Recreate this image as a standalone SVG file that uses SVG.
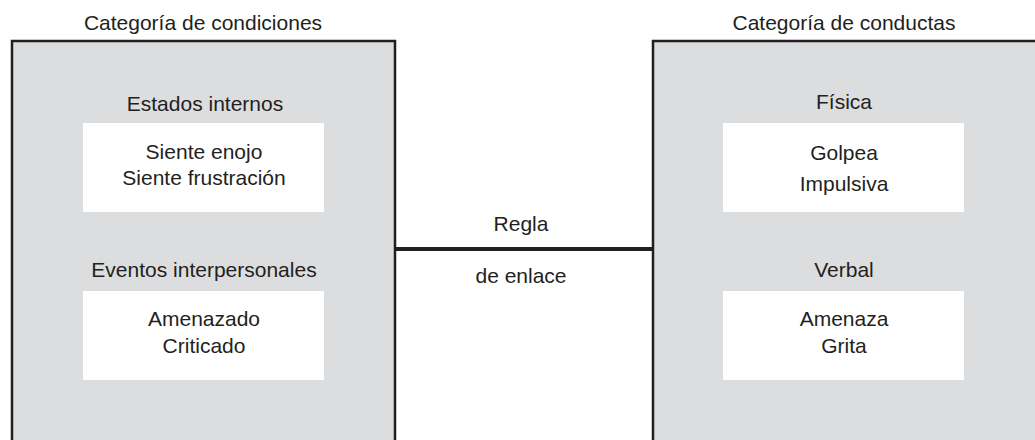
<svg xmlns="http://www.w3.org/2000/svg" width="1035" height="440" viewBox="0 0 1035 440">
<style>
.cat{fill:#dcdddf;stroke:#231f20;stroke-width:2.5}
.inner{fill:#ffffff}
text{font-family:"Liberation Sans",Arial,sans-serif;font-size:21px;fill:#231f20;text-anchor:middle}
.link{stroke:#231f20;stroke-width:4;fill:none}
</style>
<rect width="1035" height="440" fill="#ffffff"/>
<g id="condiciones">
<text x="203" y="30">Categoría de condiciones</text>
<rect class="cat" x="12" y="41" width="383" height="410"/>
<text x="205" y="111">Estados internos</text>
<rect class="inner" x="83" y="123" width="241" height="89"/>
<text x="204" y="159">Siente enojo</text>
<text x="204" y="185">Siente frustración</text>
<text x="204" y="277">Eventos interpersonales</text>
<rect class="inner" x="83" y="291" width="241" height="89"/>
<text x="204" y="326">Amenazado</text>
<text x="204" y="353">Criticado</text>
</g>
<g id="conductas">
<text x="844" y="30">Categoría de conductas</text>
<rect class="cat" x="653" y="41" width="400" height="410"/>
<text x="844" y="109">Física</text>
<rect class="inner" x="723" y="123" width="241" height="89"/>
<text x="844" y="160">Golpea</text>
<text x="844" y="191">Impulsiva</text>
<text x="844" y="277">Verbal</text>
<rect class="inner" x="723" y="291" width="241" height="89"/>
<text x="844" y="326">Amenaza</text>
<text x="844" y="353">Grita</text>
</g>
<g id="connectors">
<line class="link" x1="395" y1="249" x2="653" y2="249"/>
<text x="521" y="231">Regla</text>
<text x="521" y="283">de enlace</text>
</g>
</svg>
